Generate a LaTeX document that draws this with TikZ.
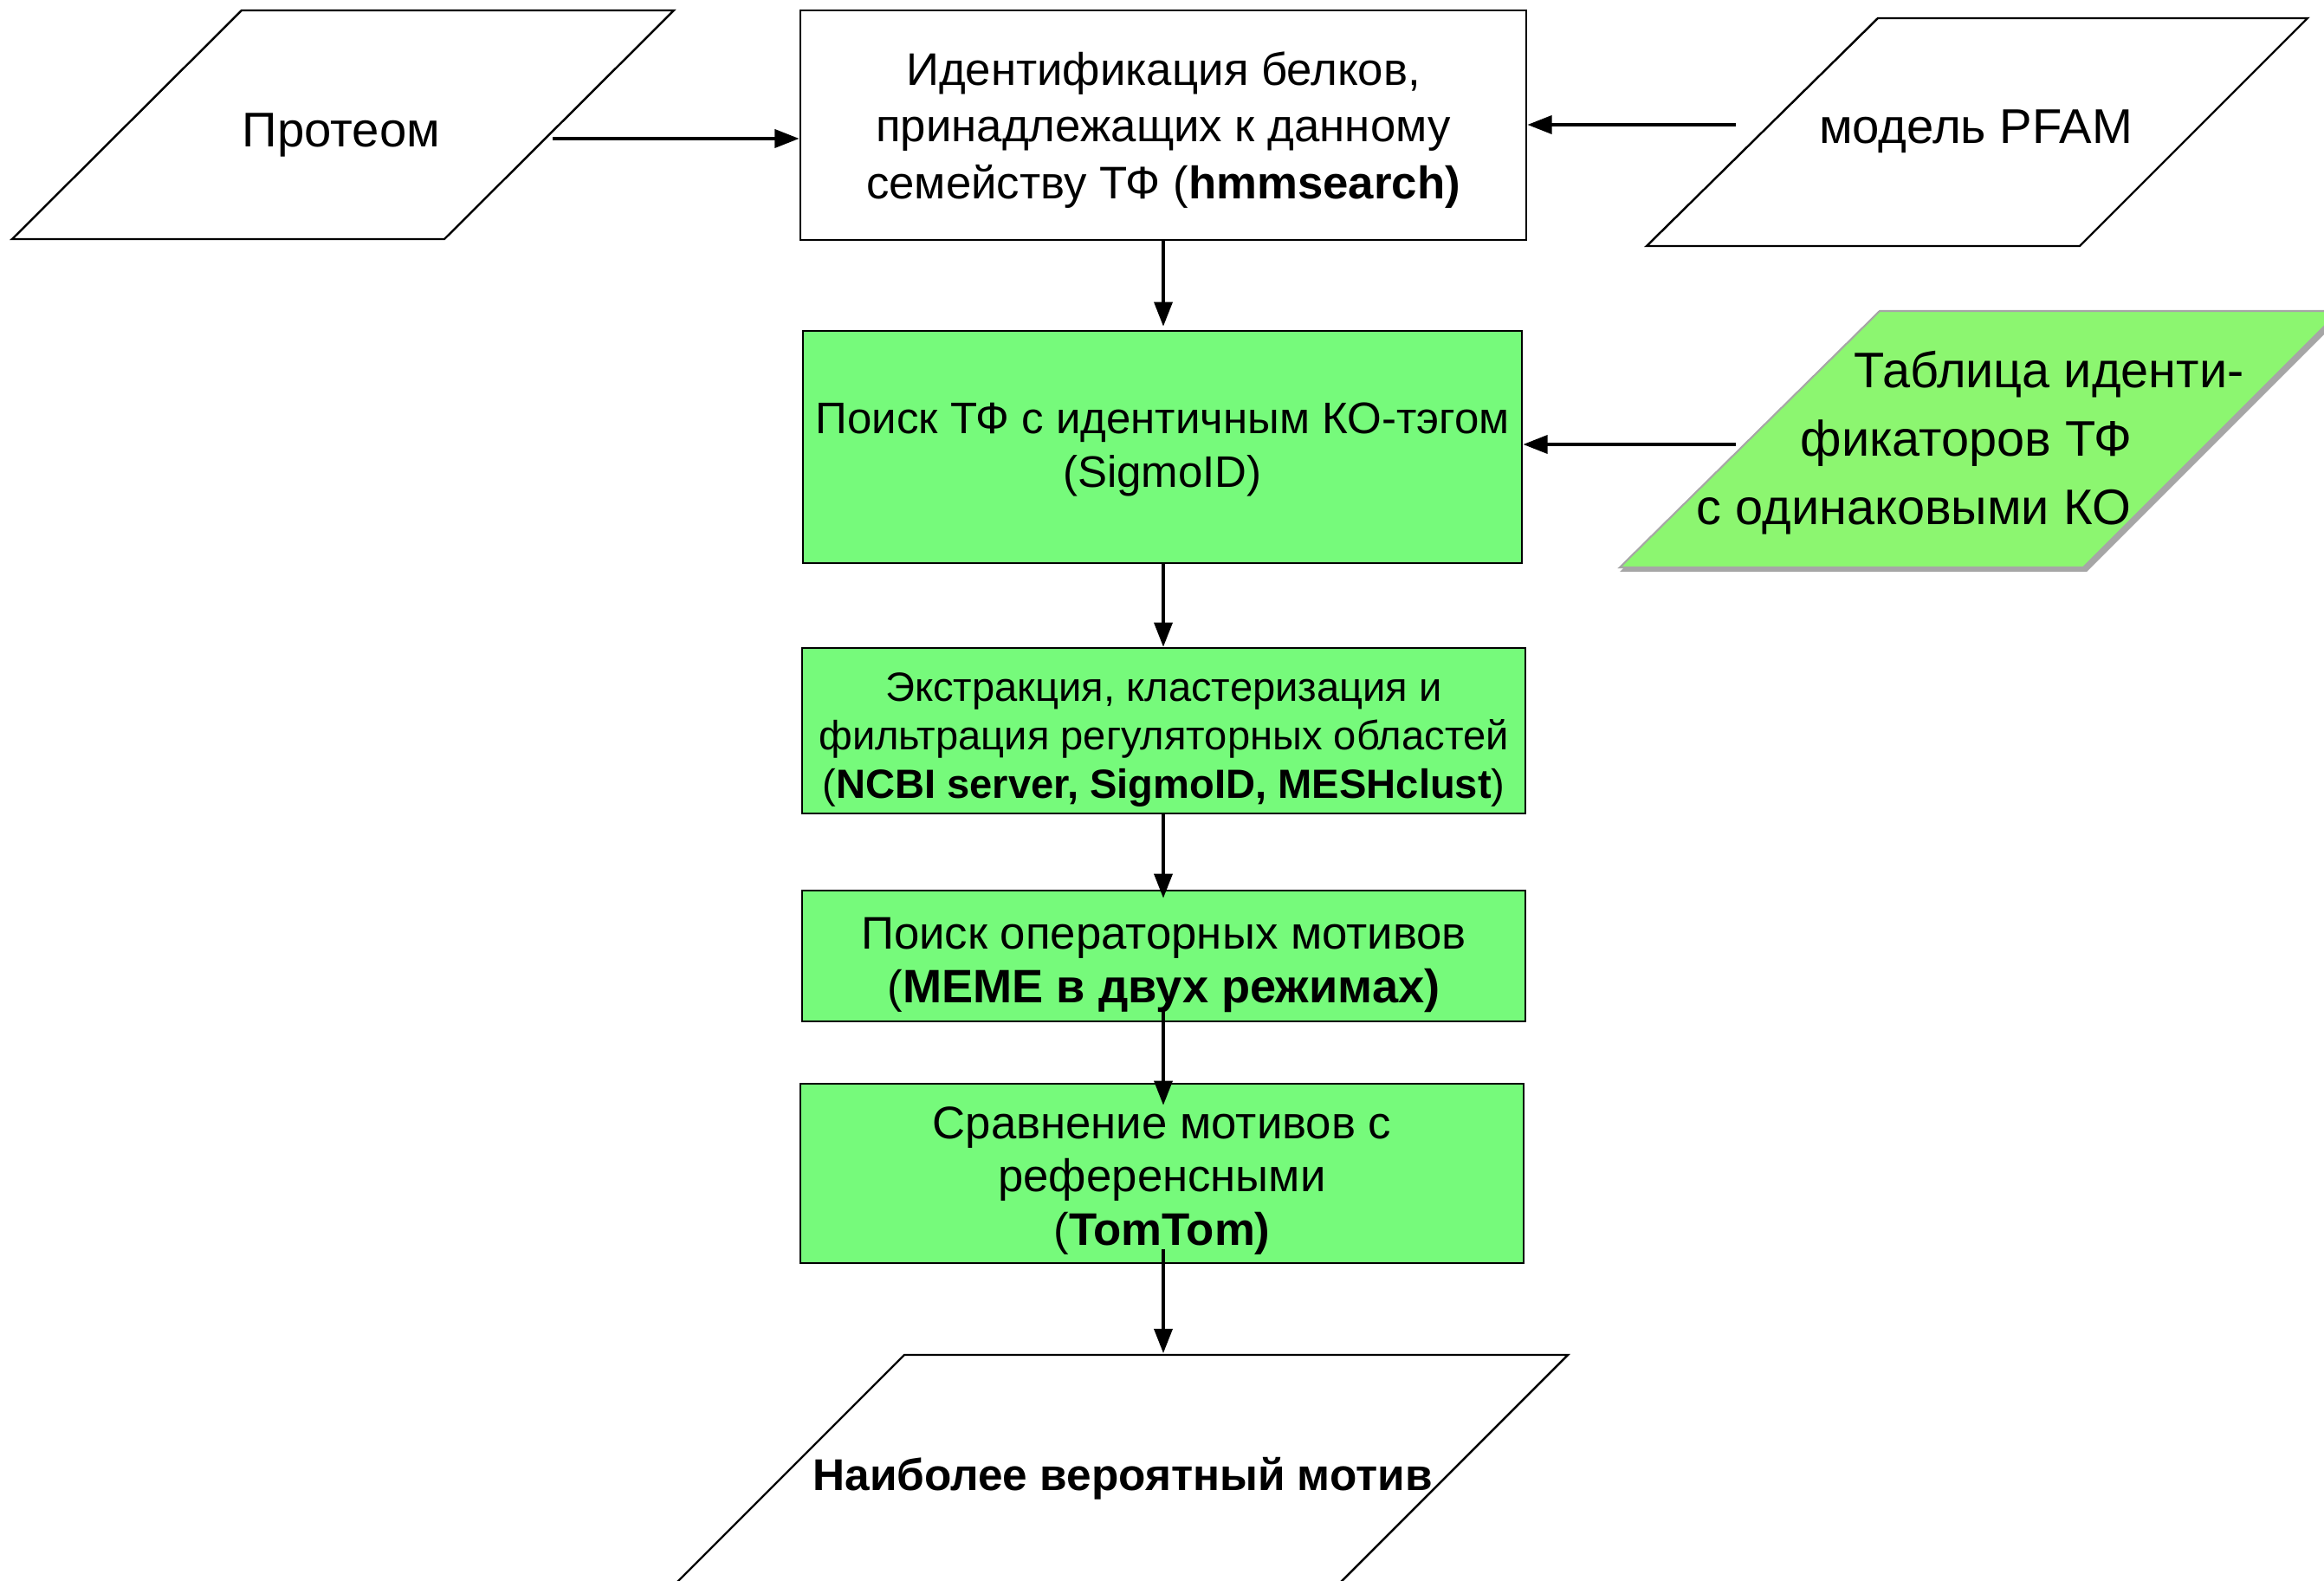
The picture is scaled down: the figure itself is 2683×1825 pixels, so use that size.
\documentclass[tikz,border=0pt]{standalone}
\usepackage{fontspec}
\setmainfont{Liberation Sans}
\usetikzlibrary{calc,arrows.meta}
\definecolor{boxgreen}{RGB}{118,250,123}
\definecolor{pargreen}{RGB}{140,246,112}
\begin{document}
\begin{tikzpicture}[x=0.01cm,y=-0.01cm,
  procbox/.style={draw=black,line width=0.7pt,inner sep=0pt,anchor=center},
  greenbox/.style={procbox,fill=boxgreen},
  boxtext/.style={align=center,inner sep=0pt},
  para/.style={draw=black,line width=0.7pt},
  conn/.style={line width=0.95pt,-{Triangle[length=8pt,width=6pt]}}]
\useasboundingbox (0,0) rectangle (2683,1825);
\fill[white] (0,0) rectangle (2683,1825);
\begin{scope}
\clip (0,0) rectangle (2683,1825);
% Proteome parallelogram
\draw[para] (279,12) -- (778,12) -- (513,276) -- (14,276) -- cycle;
\node[font=\fontsize{16}{19}\selectfont] (prot) at (394,156) {Протеом};
\coordinate (protout) at (638,160);
% PFAM parallelogram
\draw[para] (2168,21) -- (2664,21) -- (2401,284) -- (1901,284) -- cycle;
\node[font=\fontsize{16}{19}\selectfont] (pfam) at (2281,152) {модель PFAM};
\coordinate (pfamout) at (2004,144);
% green parallelogram (table)
\fill[black!35] (2170,364) -- (2705,364) -- (2409,660) -- (1870,660) -- cycle;
\draw[draw=black!35,fill=pargreen,line width=0.6pt] (2170,359) -- (2701,359) -- (2405,655) -- (1870,655) -- cycle;
\node[font=\fontsize{16.4}{22.5}\selectfont,align=left,anchor=west,inner sep=0pt] (tab) at (1958,511)
  {\hspace*{18.2mm}Таблица иденти-\\\hspace*{12.0mm}фикаторов ТФ\\с одинаковыми КО};
\coordinate (tabout) at (2004,513);
% final parallelogram
\draw[para] (1044,1564) -- (1810,1564) -- (1474,1900) -- (708,1900) -- cycle;
\node[font=\bfseries\fontsize{14.6}{18}\selectfont] (res) at (1296,1707) {Наиболее вероятный мотив};
\coordinate (restop) at (1343,1562);
\end{scope}
% process boxes
\node[procbox,minimum width=8.38cm,minimum height=2.65cm] (b1) at (1343,144.5) {};
\node[boxtext,font=\fontsize{15}{18.6}\selectfont] (b1t) at (1343,150)
  {Идентификация белков,\\принадлежащих к данному\\семейству ТФ (\textbf{hmmsearch)}};
\node[greenbox,minimum width=8.30cm,minimum height=2.68cm] (b2) at (1342,516) {};
\node[boxtext,font=\fontsize{14.5}{17.6}\selectfont] (b2t) at (1342,519)
  {Поиск ТФ с идентичным КО-тэгом\\(SigmoID)};
\node[greenbox,minimum width=8.35cm,minimum height=1.91cm] (b3) at (1343.5,843.5) {};
\node[boxtext,font=\fontsize{13.4}{16}\selectfont] (b3t) at (1343.5,854)
  {Экстракция, кластеризация и\\фильтрация регуляторных областей\\(\textbf{NCBI server, SigmoID, MESHclust})};
\node[greenbox,minimum width=8.35cm,minimum height=1.51cm] (b4) at (1343.5,1103.5) {};
\node[boxtext,font=\fontsize{15}{17.6}\selectfont] (b4t) at (1343.5,1114)
  {Поиск операторных мотивов\\({\fontsize{15.4}{17.6}\selectfont\textbf{MEME в двух режимах)}}};
\node[greenbox,minimum width=8.35cm,minimum height=2.07cm] (b5) at (1341.5,1354.5) {};
\node[boxtext,font=\fontsize{15}{17.5}\selectfont] (b5t) at (1341.5,1363)
  {Сравнение мотивов с\\референсными\\(\textbf{TomTom)}};
% connectors
\draw[conn] (protout) -- (protout -| b1.west);
\draw[conn] (pfamout) -- (pfamout -| b1.east);
\draw[conn] (tabout) -- (tabout -| b2.east);
\draw[conn] (b1.south) -- ($(b1.south |- b2.north)+(0,-4)$);
\draw[conn] (b1.south |- b2.south) -- (b1.south |- b3.north);
\draw[conn] (b1.south |- b3.south) -- ($(b1.south |- b4.north)+(0,10)$);
\draw[conn] ($(b1.south |- b4.south)+(0,-14)$) -- ($(b1.south |- b5.north)+(0,26)$);
\draw[conn] ($(b1.south |- b5.south)+(0,-17)$) -- (restop);
\end{tikzpicture}
\end{document}
